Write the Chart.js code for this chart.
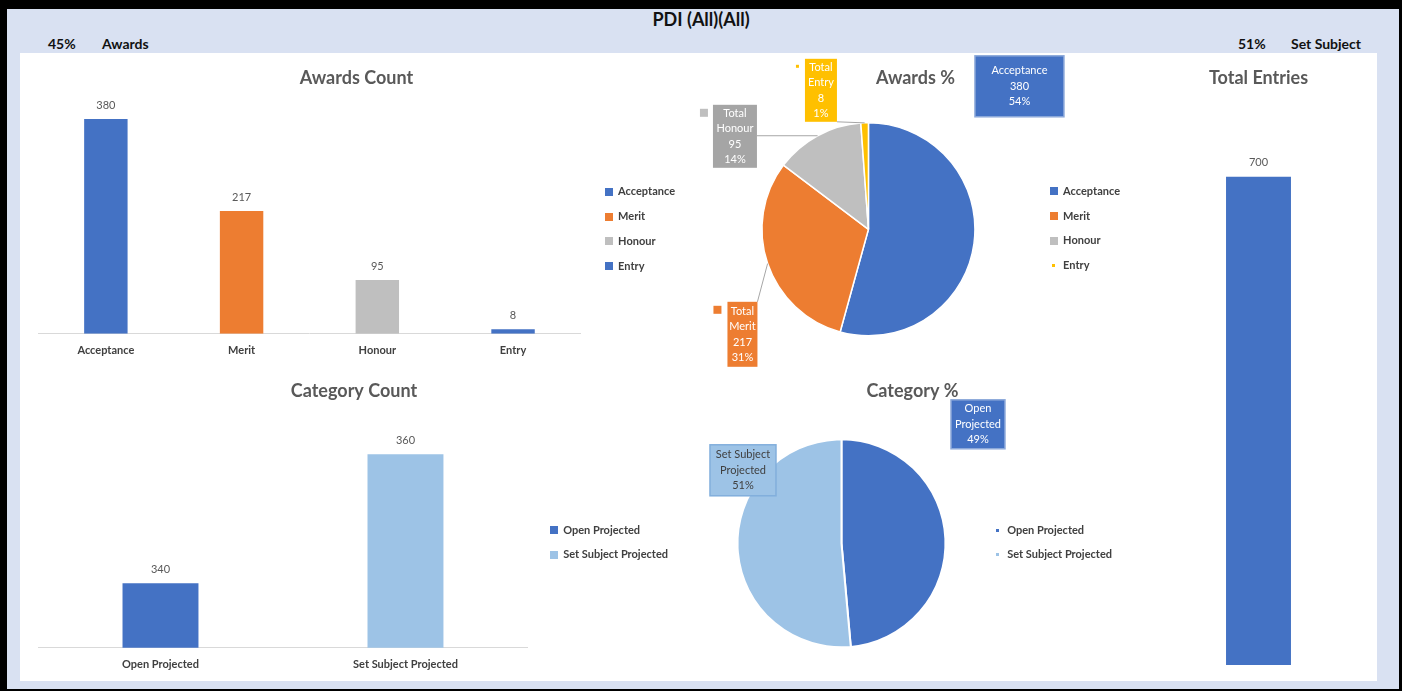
<!DOCTYPE html>
<html>
<head>
<meta charset="utf-8">
<script src="https://cdn.jsdelivr.net/npm/chart.js@4.4.0/dist/chart.umd.min.js"></script>
<style>
  html, body { margin: 0; padding: 0; background: #000; }
  #frame { position: relative; width: 1402px; height: 691px; background: #000; overflow: hidden; font-family: Lato, "Open Sans", sans-serif; }
  #band { position: absolute; left: 7px; top: 9px; width: 1392px; height: 680px; background: #d9e1f2; }
  #panel { position: absolute; left: 20px; top: 53px; width: 1357px; height: 628px; background: #fff; }
  .hdr { position: absolute; font-weight: bold; font-size: 14px; color: #111; line-height: 16px; }
  #main-title { position: absolute; left: 0; width: 1402px; top: 8px; text-align: center; font-weight: bold; font-size: 18px; color: #111; }
  canvas { position: absolute; }
</style>
</head>
<body>
<div id="frame">
  <div id="band"></div>
  <div id="panel"></div>
  <div id="main-title">PDI (All)(All)</div>
  <div class="hdr" style="left:48px;top:36px">45%</div>
  <div class="hdr" style="left:102px;top:36px">Awards</div>
  <div class="hdr" style="left:1238px;top:36px">51%</div>
  <div class="hdr" style="left:1291px;top:36px">Set Subject</div>

  <canvas id="awards-count" width="680" height="312" style="left:20px;top:55px"></canvas>
  <canvas id="awards-pct" width="450" height="312" style="left:690px;top:55px"></canvas>
  <canvas id="total-entries" width="237" height="626" style="left:1140px;top:55px"></canvas>
  <canvas id="cat-count" width="680" height="313" style="left:20px;top:368px"></canvas>
  <canvas id="cat-pct" width="450" height="313" style="left:690px;top:368px"></canvas>
</div>

<script>
// ข้อมูลอ่านจากภาพ
const awardCats = ['Acceptance', 'Merit', 'Honour', 'Entry'];
const awardCounts = [380, 217, 95, 8];
const awardBarColors = ['#4472c4', '#ed7d31', '#bfbfbf', '#4472c4'];
const awardPieColors = ['#4472c4', '#ed7d31', '#bfbfbf', '#ffc000'];

const catNames = ['Open Projected', 'Set Subject Projected'];
const catCounts = [340, 360];
const catColors = ['#4472c4', '#9dc3e6'];

const totalCats = ['Total'];
const totalEntries = [700];

const FONT = "Lato, 'Open Sans', sans-serif";
Chart.defaults.font.family = FONT;
Chart.defaults.animation = false;
Chart.defaults.plugins.tooltip.enabled = false;

// สี่เหลี่ยมเล็กๆ สำหรับ legend (ขนาดต่างกันได้ทีละรายการ)
function keyMark(color, size) {
  const c = document.createElement('canvas');
  c.width = size; c.height = size;
  const g = c.getContext('2d');
  g.fillStyle = color;
  g.fillRect(0, 0, size, size);
  return c;
}

function legendOpts(names, colors, sizes) {
  return {
    position: 'right',
    labels: {
      usePointStyle: true,
      boxWidth: 8, boxHeight: 8,
      padding: 13.7,
      color: '#404040',
      font: { size: 11, weight: 'bold' },
      generateLabels: () => names.map((n, i) => ({
        text: n,
        fillStyle: colors[i],
        strokeStyle: colors[i],
        lineWidth: 0,
        pointStyle: keyMark(colors[i], sizes ? sizes[i] : 8),
        fontColor: '#404040',
        hidden: false,
        index: i
      }))
    }
  };
}

const titleOpts = text => ({
  display: true, text, color: '#595959',
  font: { size: 18, weight: 'bold' },
  padding: { top: 12, bottom: 10 }
});

// เลื่อน legend ให้ตรงตำแหน่งในภาพต้นฉบับ
const legendShift = {
  id: 'legendShift',
  afterLayout(chart, args, opts) {
    const l = chart.legend;
    if (!l) return;
    const dx = opts.dx || 0, dy = opts.dy || 0;
    l.left += dx; l.right += dx;
    l.top += dy; l.bottom += dy;
  }
};

// ตัวเลขเหนือแท่ง
const valueLabels = {
  id: 'valueLabels',
  afterDatasetsDraw(chart) {
    const ctx = chart.ctx;
    const ds = chart.data.datasets[0];
    ctx.save();
    ctx.font = '11px ' + FONT;
    ctx.fillStyle = '#595959';
    ctx.textAlign = 'center';
    ctx.textBaseline = 'middle';
    chart.getDatasetMeta(0).data.forEach((bar, i) => ctx.fillText(String(ds.data[i]), bar.x, bar.y - 14));
    ctx.restore();
  }
};

// ป้ายข้อมูลแบบกล่อง callout ของ pie
const callouts = {
  id: 'callouts',
  afterDatasetsDraw(chart, args, opts) {
    const ctx = chart.ctx;
    const ds = chart.data.datasets[0];
    const total = ds.data.reduce((a, b) => a + b, 0);
    const arcs = chart.getDatasetMeta(0).data;
    ctx.save();
    opts.items.forEach((it, i) => {
      const arc = arcs[i];
      const bx = arc.x + it.dx - it.w / 2;
      const by = arc.y + it.dy - it.h / 2;
      const pct = Math.round(ds.data[i] / total * 100);
      const lines = opts.text(chart.data.labels[i], ds.data[i], pct, i);

      if (it.leader) {
        const mid = (arc.startAngle + arc.endAngle) / 2;
        const px = arc.x + Math.cos(mid) * arc.outerRadius;
        const py = arc.y + Math.sin(mid) * arc.outerRadius;
        const qx = Math.min(Math.max(px, bx), bx + it.w);
        const qy = Math.min(Math.max(py, by), by + it.h);
        ctx.strokeStyle = '#a6a6a6';
        ctx.lineWidth = 1;
        ctx.beginPath();
        ctx.moveTo(qx, qy);
        ctx.lineTo(px, py);
        ctx.stroke();
      }

      ctx.fillStyle = it.bg;
      ctx.fillRect(bx, by, it.w, it.h);
      if (it.border) {
        ctx.strokeStyle = it.border;
        ctx.lineWidth = 1.5;
        ctx.strokeRect(bx, by, it.w, it.h);
      }

      ctx.fillStyle = it.color;
      ctx.font = '11px ' + FONT;
      ctx.textAlign = 'center';
      ctx.textBaseline = 'middle';
      const lh = it.lh || 15.5;
      const y0 = by + it.h / 2 - (lines.length - 1) * lh / 2;
      lines.forEach((t, k) => ctx.fillText(t, bx + it.w / 2, y0 + k * lh));

      if (it.key) {
        ctx.fillStyle = ds.backgroundColor[i];
        ctx.fillRect(bx - it.key.gap - it.key.size, by + it.key.top, it.key.size, it.key.size);
      }
    });
    ctx.restore();
  }
};

const catAxis = {
  grid: { display: false, drawTicks: false },
  border: { color: '#d9d9d9' },
  ticks: { color: '#404040', font: { size: 11, weight: 'bold' }, padding: 10 }
};

// Awards Count
new Chart(document.getElementById('awards-count'), {
  type: 'bar',
  data: {
    labels: awardCats,
    datasets: [{ data: awardCounts, backgroundColor: awardBarColors, barPercentage: 0.64, categoryPercentage: 0.5 }]
  },
  options: {
    responsive: false,
    layout: { padding: { left: 18, right: 25, top: 0, bottom: 0 } },
    plugins: {
      title: titleOpts('Awards Count'),
      legend: legendOpts(awardCats, awardBarColors),
      legendShift: { dx: 10, dy: 18 }
    },
    scales: {
      x: catAxis,
      y: { display: false, min: 0, max: 416 }
    }
  },
  plugins: [valueLabels, legendShift]
});

// Awards %
new Chart(document.getElementById('awards-pct'), {
  type: 'pie',
  data: {
    labels: awardCats,
    datasets: [{ data: awardCounts, backgroundColor: awardPieColors, borderColor: '#fff', borderWidth: 1.5, radius: 106.5 }]
  },
  options: {
    responsive: false,
    layout: { padding: { left: 11, right: 10, top: 0, bottom: 7 } },
    plugins: {
      title: titleOpts('Awards %'),
      legend: legendOpts(awardCats, awardPieColors, [8, 8, 8, 3]),
      legendShift: { dx: 0, dy: 21 },
      callouts: {
        text: (label, v, pct, i) => i === 0 ? [label, String(v), pct + '%'] : ['Total', label, String(v), pct + '%'],
        items: [
          { dx: 151, dy: -143, w: 89, h: 61, bg: '#4472c4', border: '#8eaadb', color: '#fff' },
          { dx: -126, dy: 105, w: 30, h: 65, bg: '#ed7d31', color: '#fff', leader: true, key: { size: 8, gap: 6, top: 4 } },
          { dx: -133.5, dy: -93, w: 44, h: 63, bg: '#a5a5a5', color: '#fff', leader: true, key: { size: 8, gap: 5, top: 4 } },
          { dx: -47.5, dy: -139, w: 32, h: 63, bg: '#ffc000', color: '#fff', leader: true, key: { size: 3, gap: 6, top: 6 } }
        ]
      }
    }
  },
  plugins: [callouts, legendShift]
});

// Total Entries
new Chart(document.getElementById('total-entries'), {
  type: 'bar',
  data: {
    labels: totalCats,
    datasets: [{ data: totalEntries, backgroundColor: '#4472c4', barPercentage: 0.274, categoryPercentage: 1 }]
  },
  options: {
    responsive: false,
    layout: { padding: { left: 0, right: 0, top: 0, bottom: 16 } },
    plugins: {
      title: titleOpts('Total Entries'),
      legend: { display: false }
    },
    scales: {
      x: { display: false },
      y: { display: false, min: 0, max: 812 }
    }
  },
  plugins: [valueLabels]
});

// Category Count
new Chart(document.getElementById('cat-count'), {
  type: 'bar',
  data: {
    labels: catNames,
    datasets: [{ data: catCounts, backgroundColor: catColors, barPercentage: 0.62, categoryPercentage: 0.5 }]
  },
  options: {
    responsive: false,
    layout: { padding: { left: 18, right: 30, top: 0, bottom: 0 } },
    plugins: {
      title: titleOpts('Category Count'),
      legend: legendOpts(catNames, catColors),
      legendShift: { dx: 8, dy: 18 }
    },
    scales: {
      x: catAxis,
      y: { display: false, min: 330, max: 366.6 }
    }
  },
  plugins: [valueLabels, legendShift]
});

// Category %
new Chart(document.getElementById('cat-pct'), {
  type: 'pie',
  data: {
    labels: catNames,
    datasets: [{ data: catCounts, backgroundColor: catColors, borderColor: '#fff', borderWidth: 2, radius: 104 }]
  },
  options: {
    responsive: false,
    layout: { padding: { left: 5, right: 10, top: 0, bottom: 6 } },
    plugins: {
      title: titleOpts('Category %'),
      legend: legendOpts(catNames, catColors, [3, 3]),
      legendShift: { dx: -8, dy: 21 },
      callouts: {
        text: (label, v, pct) => [label.replace(' Projected', ''), 'Projected', pct + '%'],
        items: [
          { dx: 136.5, dy: -119, w: 54, h: 49, bg: '#4472c4', border: '#8eaadb', color: '#fff' },
          { dx: -98.5, dy: -73, w: 66, h: 51, bg: '#9dc3e6', border: '#82afdc', color: '#404040' }
        ]
      }
    }
  },
  plugins: [callouts, legendShift]
});
</script>
</body>
</html>
